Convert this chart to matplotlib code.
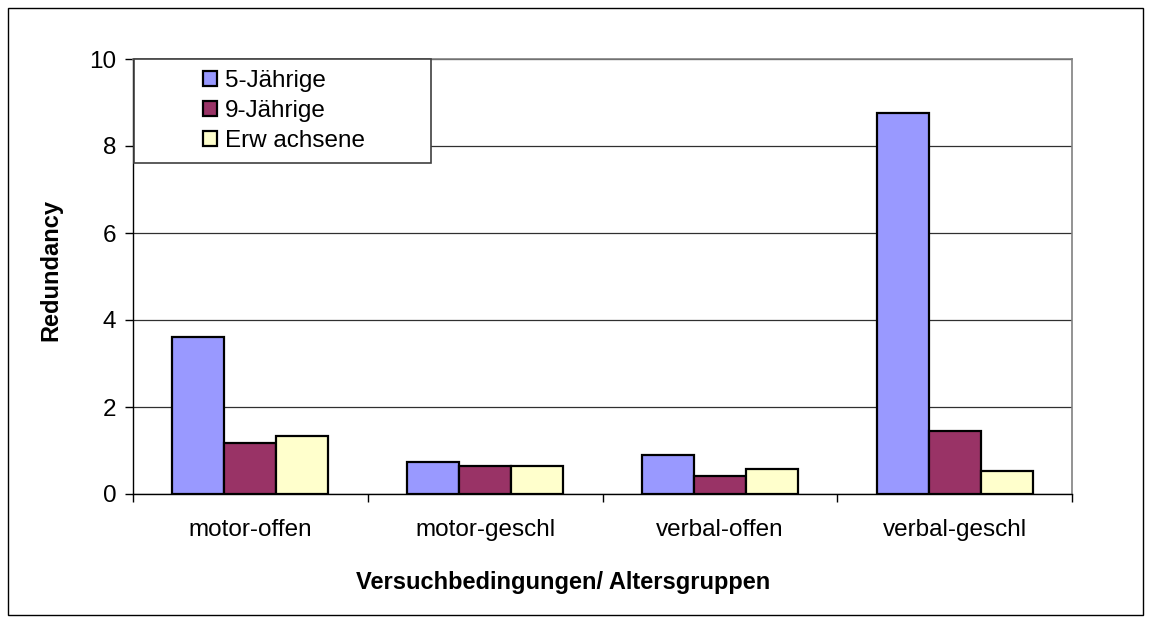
import numpy as np
import matplotlib
matplotlib.use("Agg")
import matplotlib.pyplot as plt
from matplotlib.patches import Rectangle

# data
categories = ["motor-offen", "motor-geschl", "verbal-offen", "verbal-geschl"]
series_names = ["5-Jährige", "9-Jährige", "Erw achsene"]
kids5 = [3.60, 0.74, 0.90, 8.77]
kids9 = [1.17, 0.64, 0.41, 1.45]
adults = [1.33, 0.64, 0.57, 0.54]
colors = ["#9999FF", "#993366", "#FFFFCC"]

plt.rcParams['font.family'] = ['Liberation Sans', 'DejaVu Sans']

fig = plt.figure(figsize=(11.51, 6.23), dpi=100)
W, H = 1151, 623
ax = fig.add_axes([133 / W, 1 - 494 / H, (1072 - 133) / W, (494 - 59) / H])

x = np.arange(len(categories))
bw = 0.2213
handles = []
for i, (vals, c) in enumerate(zip([kids5, kids9, adults], colors)):
    b = ax.bar(x + (i - 1) * bw, vals, bw, color=c, edgecolor="black",
               linewidth=1.6, zorder=3, label=series_names[i])
    handles.append(b)

ax.set_xlim(-0.5, 3.5)
ax.set_ylim(0, 10)
ax.set_yticks([0, 2, 4, 6, 8, 10])
ax.yaxis.grid(True, color="#303030", linewidth=0.9, zorder=0)
ax.set_xticks(x)
ax.set_xticklabels(categories, fontsize=17.5)
ax.set_xticks(np.arange(-0.5, 4.0, 1.0), minor=True)
ax.tick_params(axis="x", which="major", length=0, pad=18)
ax.tick_params(axis="x", which="minor", length=6, width=1, direction="out")
ax.tick_params(axis="y", labelsize=17.5, length=6, width=1, pad=6)

for s in ["top", "right"]:
    ax.spines[s].set_color("#808080")
    ax.spines[s].set_linewidth(1.2)
for s in ["left", "bottom"]:
    ax.spines[s].set_color("black")
    ax.spines[s].set_linewidth(1)

# legend box (white, covering the top-left of the plot)
ax.add_patch(Rectangle((1 / 939, (494 - 163) / 435), (431 - 134) / 939, (163 - 59) / 435,
                       transform=ax.transAxes, facecolor="white", edgecolor="#404040",
                       linewidth=1.2, zorder=5, clip_on=False))
leg = ax.legend(handles=handles, loc="upper left", frameon=False,
                bbox_to_anchor=((193 - 133) / 939, (494 - 60) / 435),
                borderaxespad=0, fontsize=17.5, handlelength=0.58, handleheight=0.58,
                handletextpad=0.35, labelspacing=0.33)
leg.set_zorder(6)

fig.text(51 / W, 1 - 270 / H, "Redundancy", rotation=90, fontsize=17,
         fontweight="bold", ha="center", va="center")
fig.text(563 / W, 1 - 583 / H, "Versuchbedingungen/ Altersgruppen", fontsize=17,
         fontweight="bold", ha="center", va="center")

# outer chart border
fig.add_artist(Rectangle((8 / W, 1 - 615 / H), (1143 - 8) / W, (615 - 8) / H,
                         transform=fig.transFigure, fill=False, edgecolor="black",
                         linewidth=1))

fig.savefig("out.png", dpi=100)
